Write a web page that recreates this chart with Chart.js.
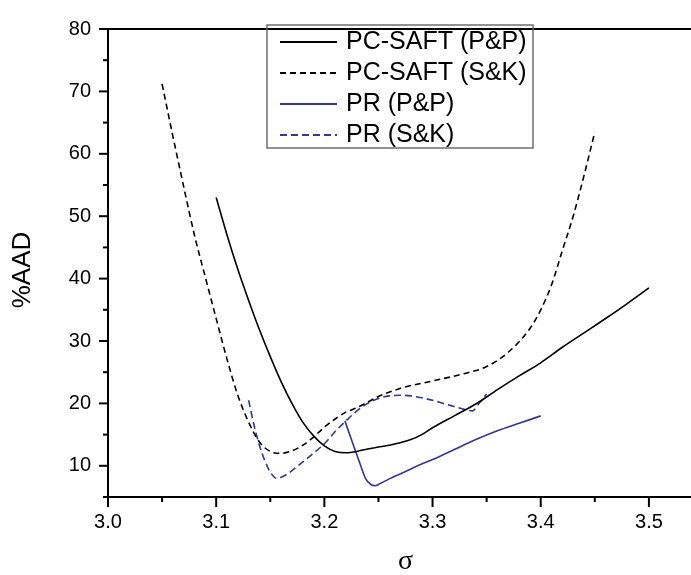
<!DOCTYPE html>
<html>
<head>
<meta charset="utf-8">
<script src="https://cdn.jsdelivr.net/npm/chart.js@4.4.1/dist/chart.umd.min.js"></script>
<style>
  body { margin: 0; overflow: hidden; background: #fff; }
  #wrap { width: 720px; height: 575px; }
</style>
</head>
<body>
<div id="wrap"><canvas id="grafico"></canvas></div>
<script>
// sigma / %AAD
const sigmaSaftPP = [3.10, 3.11, 3.12, 3.13, 3.14, 3.15, 3.16, 3.17, 3.18, 3.19, 3.20, 3.21, 3.22, 3.23, 3.24, 3.25, 3.26, 3.27, 3.28, 3.29, 3.30, 3.32, 3.34, 3.36, 3.38, 3.40, 3.42, 3.44, 3.46, 3.48, 3.50];
const aadSaftPP   = [53.0, 47.0, 41.5, 36.5, 31.8, 27.5, 23.5, 20.0, 17.0, 14.8, 13.2, 12.3, 12.1, 12.3, 12.7, 13.0, 13.3, 13.7, 14.2, 15.0, 16.1, 18.0, 19.9, 22.2, 24.4, 26.5, 29.0, 31.3, 33.6, 36.0, 38.5];

const sigmaSaftSK = [3.05, 3.06, 3.07, 3.08, 3.09, 3.10, 3.11, 3.12, 3.13, 3.14, 3.15, 3.16, 3.17, 3.18, 3.19, 3.20, 3.21, 3.22, 3.23, 3.24, 3.25, 3.27, 3.30, 3.33, 3.35, 3.37, 3.39, 3.40, 3.41, 3.42, 3.43, 3.44, 3.45];
const aadSaftSK   = [71.2, 62.8, 54.7, 46.9, 40.2, 33.6, 27.1, 21.3, 17.0, 13.8, 12.3, 12.0, 12.4, 13.3, 14.6, 16.2, 17.5, 18.6, 19.3, 20.2, 21.1, 22.4, 23.6, 24.8, 25.9, 28.2, 32.0, 35.0, 39.0, 44.5, 50.0, 56.5, 63.5];

const sigmaPrPP = [3.219, 3.225, 3.232, 3.238, 3.243, 3.247, 3.252, 3.26, 3.27, 3.28, 3.29, 3.30, 3.32, 3.34, 3.36, 3.38, 3.40];
const aadPrPP   = [17.2, 14.2, 10.8, 8.0, 7.0, 6.8, 7.2, 7.9, 8.7, 9.5, 10.3, 11.0, 12.6, 14.2, 15.6, 16.8, 18.0];

const sigmaPrSK = [3.13, 3.135, 3.14, 3.145, 3.15, 3.156, 3.165, 3.177, 3.19, 3.202, 3.21, 3.22, 3.23, 3.24, 3.25, 3.26, 3.27, 3.28, 3.29, 3.30, 3.31, 3.32, 3.33, 3.337, 3.343, 3.35];
const aadPrSK   = [20.5, 16.5, 13.3, 10.8, 9.0, 8.0, 8.6, 10.2, 12.0, 13.9, 15.5, 17.2, 18.8, 20.0, 20.8, 21.2, 21.3, 21.2, 20.9, 20.5, 20.0, 19.5, 19.0, 18.8, 20.0, 21.5];

const etiquetas = ["PC-SAFT (P&P)", "PC-SAFT (S&K)", "PR (P&P)", "PR (S&K)"];

const azul = "#3434a4";

function puntos(xs, ys) {
  return xs.map((x, i) => ({ x: x, y: ys[i] }));
}

function serie(label, xs, ys, color, dash) {
  return {
    label: label,
    data: puntos(xs, ys),
    borderColor: color,
    borderWidth: 1.6,
    borderDash: dash,
    pointRadius: 0,
    fill: false,
    cubicInterpolationMode: "monotone"
  };
}

const fuente = "'Liberation Sans', Arial, sans-serif";

// ejes, marcas, titulos y leyenda con recuadro
const marcos = {
  id: "marcos",
  afterDraw(chart) {
    const ctx = chart.ctx;
    const area = chart.chartArea;
    const sx = chart.scales.x;
    const sy = chart.scales.y;
    ctx.save();
    ctx.strokeStyle = "#000";
    ctx.lineWidth = 2;
    ctx.beginPath();
    ctx.moveTo(area.left, area.top);
    ctx.lineTo(area.right, area.top);
    ctx.stroke();

    ctx.lineWidth = 2;
    sy.ticks.forEach(t => {
      const py = sy.getPixelForValue(t.value);
      const len = t.label !== "" ? 9 : 5;
      ctx.beginPath();
      ctx.moveTo(area.left, py);
      ctx.lineTo(area.left - len, py);
      ctx.stroke();
    });
    sx.ticks.forEach(t => {
      const px = sx.getPixelForValue(t.value);
      const len = t.label !== "" ? 10 : 5;
      ctx.beginPath();
      ctx.moveTo(px, area.bottom);
      ctx.lineTo(px, area.bottom + len);
      ctx.stroke();
    });

    // titulos
    ctx.fillStyle = "#000";
    ctx.textAlign = "center";
    ctx.textBaseline = "middle";
    ctx.font = "28px 'Liberation Serif', serif";
    ctx.fillText("σ", (area.left + area.right) / 2, 562);
    ctx.translate(23, 270);
    ctx.rotate(-Math.PI / 2);
    ctx.font = "26px " + fuente;
    ctx.fillText("%AAD", 0, 0);
    ctx.restore();

    // leyenda
    ctx.save();
    ctx.strokeStyle = "#6e6e6e";
    ctx.lineWidth = 1.5;
    ctx.strokeRect(267, 25, 266, 123);
    ctx.font = "25px " + fuente;
    ctx.textAlign = "left";
    ctx.textBaseline = "middle";
    ctx.fillStyle = "#000";
    chart.data.datasets.forEach((ds, i) => {
      const yy = 42 + i * 31;
      ctx.strokeStyle = ds.borderColor;
      ctx.lineWidth = 1.8;
      ctx.setLineDash(ds.borderDash || []);
      ctx.beginPath();
      ctx.moveTo(280, yy);
      ctx.lineTo(337, yy);
      ctx.stroke();
      ctx.setLineDash([]);
      ctx.fillText(ds.label, 346, yy);
    });
    ctx.restore();
  }
};

const ctx = document.getElementById("grafico").getContext("2d");
const grafico = new Chart(ctx, {
  type: "line",
  data: {
    datasets: [
      serie(etiquetas[0], sigmaSaftPP, aadSaftPP, "#000", []),
      serie(etiquetas[1], sigmaSaftSK, aadSaftSK, "#000", [6, 4]),
      serie(etiquetas[2], sigmaPrPP, aadPrPP, azul, []),
      serie(etiquetas[3], sigmaPrSK, aadPrSK, azul, [7, 4])
    ]
  },
  options: {
    animation: false,
    responsive: true,
    maintainAspectRatio: false,
    layout: { padding: { left: 0, top: 17, right: 17, bottom: 0 } },
    plugins: {
      legend: { display: false },
      tooltip: { enabled: false }
    },
    scales: {
      x: {
        type: "linear",
        min: 3.0,
        max: 3.55,
        grid: { display: false, drawTicks: false },
        border: { display: true, color: "#000", width: 2 },
        ticks: {
          stepSize: 0.05,
          padding: 13,
          color: "#000",
          font: { family: fuente, size: 20 },
          maxRotation: 0,
          autoSkip: false,
          callback: v => Math.round(v * 100) % 10 === 0 ? v.toFixed(1) : ""
        },
        afterFit: s => { s.height = 78; }
      },
      y: {
        min: 5,
        max: 80,
        grid: { display: false, drawTicks: false },
        border: { display: true, color: "#000", width: 2 },
        ticks: {
          stepSize: 5,
          padding: 17,
          color: "#000",
          font: { family: fuente, size: 20 },
          autoSkip: false,
          callback: v => v % 10 === 0 ? v : ""
        },
        afterFit: s => { s.width = 108; }
      }
    }
  },
  plugins: [marcos]
});
</script>
</body>
</html>
